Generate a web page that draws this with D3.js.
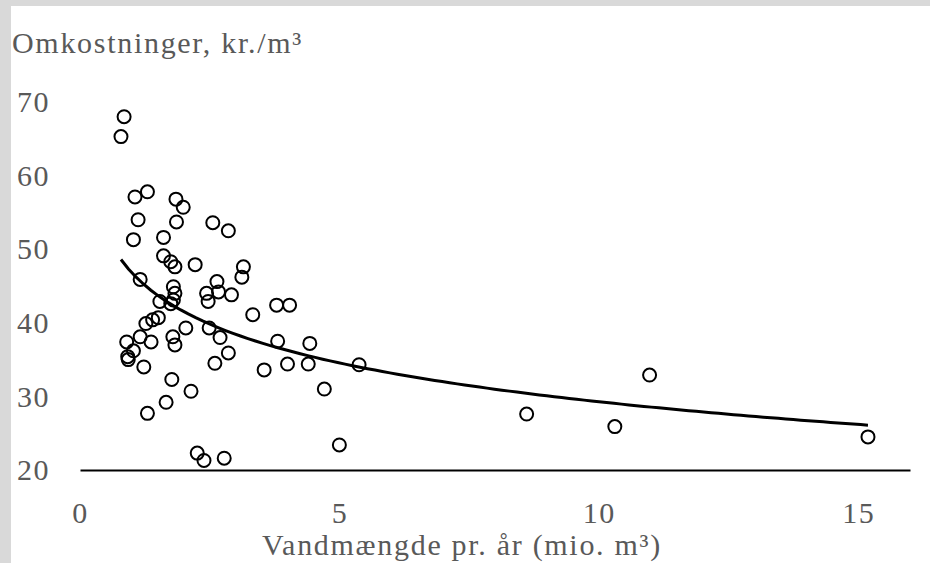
<!DOCTYPE html>
<html>
<head>
<meta charset="utf-8">
<script src="https://cdn.jsdelivr.net/npm/d3@7"></script>
<style>
  body { margin: 0; background: #d9d9d9; }
  svg { display: block; }
</style>
</head>
<body>
<div id="chart"></div>
<script>
// vandmængde (mio. m3) og omkostninger (kr./m3)
const volume = [
  0.85, 0.79, 1.06, 1.30, 1.85, 1.99, 1.12, 1.86, 2.56, 2.86,
  1.03, 1.61, 1.61, 1.75, 1.83, 2.22, 3.15, 3.12, 1.16, 2.64,
  1.80, 2.44, 2.67, 2.92, 2.47, 1.83, 1.80, 1.54, 1.75, 3.33,
  1.51, 1.40, 1.27, 2.04, 2.49, 1.16, 0.90, 1.37, 1.79, 1.83,
  2.70, 1.03, 0.92, 0.93, 2.86, 2.60, 1.23, 3.55, 1.77, 2.14,
  1.66, 1.30, 2.26, 2.39, 2.78, 3.79, 4.04, 3.81, 4.43, 4.00,
  4.40, 5.38, 4.71, 5.00, 8.61, 10.31, 10.98, 15.19
];
const cost = [
  68.0, 65.3, 57.1, 57.8, 56.8, 55.7, 54.0, 53.7, 53.6, 52.5,
  51.3, 51.6, 49.1, 48.3, 47.6, 47.9, 47.6, 46.2, 45.9, 45.6,
  44.9, 44.0, 44.2, 43.8, 42.9, 44.0, 43.1, 42.9, 42.6, 41.1,
  40.7, 40.4, 39.9, 39.3, 39.3, 38.1, 37.4, 37.4, 38.1, 37.0,
  38.0, 36.2, 35.4, 35.0, 35.9, 34.5, 34.0, 33.6, 32.3, 30.7,
  29.2, 27.7, 22.3, 21.3, 21.6, 42.4, 42.4, 37.5, 37.2, 34.4,
  34.4, 34.3, 31.0, 23.4, 27.6, 25.9, 32.9, 24.5
];

// logaritmisk tendenslinje y = a + b*ln(x)
const trendA = 46.8;
const trendB = -7.61;

const xTicks = [0, 5, 10, 15];
const yTicks = [20, 30, 40, 50, 60, 70];

const width = 930, height = 563;
const margin = { top: 102, right: 20, bottom: 93, left: 80 };
const textColor = "#595959";
const font = "'Liberation Serif', 'DejaVu Serif', serif";

const points = volume.map((v, i) => ({ x: v, y: cost[i] }));

const svg = d3.select("#chart")
  .append("svg")
  .attr("width", width)
  .attr("height", height);

svg.append("rect")
  .attr("width", width)
  .attr("height", height)
  .attr("fill", "#d9d9d9");

svg.append("rect")
  .attr("x", 11)
  .attr("y", 6)
  .attr("width", width - 11)
  .attr("height", height - 6)
  .attr("fill", "#fff");

const x = d3.scaleLinear()
  .domain([0, 16])
  .range([margin.left, width - margin.right]);

const y = d3.scaleLinear()
  .domain([20, 70])
  .range([height - margin.bottom, margin.top]);

// y-akse, kun tal
const yAxis = svg.append("g")
  .attr("transform", `translate(${margin.left - 30}, 0)`)
  .call(d3.axisLeft(y).tickValues(yTicks).tickSize(0).tickPadding(0));
yAxis.select(".domain").remove();
yAxis.selectAll("text")
  .attr("fill", textColor)
  .style("font-family", font)
  .style("font-size", "30px")
  .style("letter-spacing", "1.5px");

// x-akse
const xAxis = svg.append("g")
  .attr("transform", `translate(0, ${y(20)})`)
  .call(d3.axisBottom(x).tickValues(xTicks).tickSize(0).tickPadding(32));
xAxis.select(".domain")
  .attr("stroke", "#000")
  .attr("stroke-width", 2);
xAxis.selectAll("text")
  .attr("fill", textColor)
  .style("font-family", font)
  .style("font-size", "30px")
  .style("letter-spacing", "1.5px");

// punkter
svg.append("g")
  .selectAll("circle")
  .data(points)
  .join("circle")
  .attr("cx", d => x(d.x))
  .attr("cy", d => y(d.y))
  .attr("r", 6.5)
  .attr("fill", "none")
  .attr("stroke", "#000")
  .attr("stroke-width", 2);

// tendenslinje over dataområdet
const [xMin, xMax] = d3.extent(volume);
const trend = d3.range(0, 101).map(i => {
  const v = xMin + (xMax - xMin) * i / 100;
  return { x: v, y: trendA + trendB * Math.log(v) };
});

svg.append("path")
  .datum(trend)
  .attr("fill", "none")
  .attr("stroke", "#000")
  .attr("stroke-width", 3)
  .attr("d", d3.line().x(d => x(d.x)).y(d => y(d.y)));

// titler
svg.append("text")
  .attr("x", 12)
  .attr("y", 53)
  .attr("fill", textColor)
  .style("font-family", font)
  .style("font-size", "30px")
  .style("letter-spacing", "1.7px")
  .text("Omkostninger, kr./m³");

svg.append("text")
  .attr("x", 462)
  .attr("y", 555)
  .attr("text-anchor", "middle")
  .attr("fill", textColor)
  .style("font-family", font)
  .style("font-size", "30px")
  .style("letter-spacing", "1.7px")
  .text("Vandmængde pr. år (mio. m³)");
</script>
</body>
</html>
